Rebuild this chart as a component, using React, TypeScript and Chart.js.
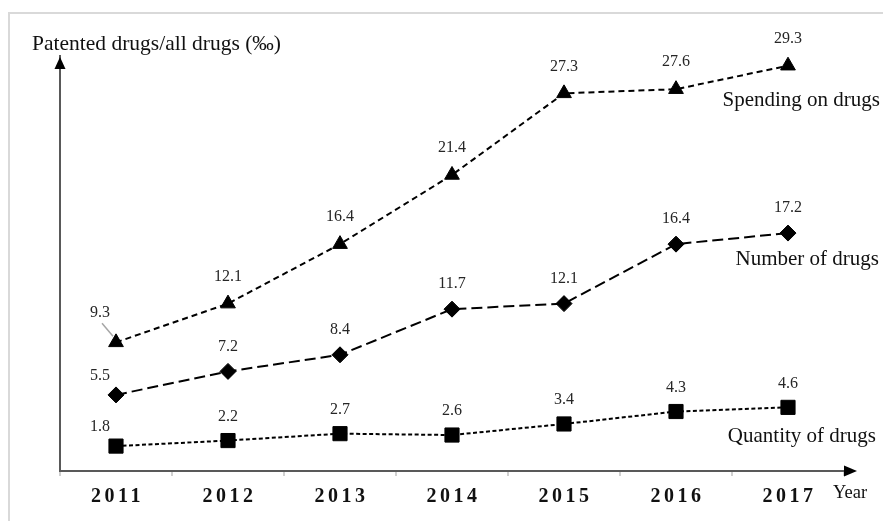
import React, { useEffect, useRef } from 'react';
import { Chart, registerables } from 'chart.js';

Chart.register(...registerables);

const years = ['2011', '2012', '2013', '2014', '2015', '2016', '2017'];
const spendingOnDrugs = [9.3, 12.1, 16.4, 21.4, 27.3, 27.6, 29.3];
const numberOfDrugs = [5.5, 7.2, 8.4, 11.7, 12.1, 16.4, 17.2];
const quantityOfDrugs = [1.8, 2.2, 2.7, 2.6, 3.4, 4.3, 4.6];
const seriesNames = ['Spending on drugs', 'Number of drugs', 'Quantity of drugs'];
const yAxisTitle = 'Patented drugs/all drugs (\u2030)';
const xAxisTitle = 'Year';
const yMin = 0;
const yMax = 30;

const SERIF = "'Liberation Serif', 'Times New Roman', serif";

const overlayPlugin = {
  id: 'overlay',
  afterDraw(chart: any) {
    const ctx: CanvasRenderingContext2D = chart.ctx;
    const area = chart.chartArea;
    const xScale = chart.scales.x;
    ctx.save();

    // axis arrows
    ctx.fillStyle = '#000';
    ctx.beginPath();
    ctx.moveTo(area.left, area.top + 1);
    ctx.lineTo(area.left - 5.5, area.top + 13);
    ctx.lineTo(area.left + 5.5, area.top + 13);
    ctx.closePath();
    ctx.fill();
    ctx.beginPath();
    ctx.moveTo(area.right + 13, area.bottom);
    ctx.lineTo(area.right, area.bottom - 5.5);
    ctx.lineTo(area.right, area.bottom + 5.5);
    ctx.closePath();
    ctx.fill();

    // axis titles
    ctx.fillStyle = '#111';
    ctx.textBaseline = 'alphabetic';
    ctx.textAlign = 'left';
    ctx.font = `21.5px ${SERIF}`;
    ctx.fillText(yAxisTitle, 32, 50);
    ctx.font = `18.5px ${SERIF}`;
    ctx.fillText(xAxisTitle, area.right - 11, 498);

    // year labels
    ctx.font = `bold 20px ${SERIF}`;
    ctx.textAlign = 'center';
    (ctx as any).letterSpacing = '3.5px';
    years.forEach((y, i) => {
      ctx.fillText(y, xScale.getPixelForValue(i) + 1.5, 502);
    });
    (ctx as any).letterSpacing = '0px';

    // data labels
    ctx.font = `16px ${SERIF}`;
    ctx.fillStyle = '#262626';
    const labelDy = [27, 25, 24];
    chart.data.datasets.forEach((ds: any, di: number) => {
      const meta = chart.getDatasetMeta(di);
      meta.data.forEach((pt: any, i: number) => {
        const v = ds.data[i];
        const txt = v.toFixed(1);
        ctx.textAlign = 'center';
        ctx.textBaseline = 'middle';
        if (i === 0) {
          const dy = di === 0 ? 30 : 19;
          ctx.fillText(txt, pt.x - 16, pt.y - dy);
          if (di === 0) {
            ctx.strokeStyle = '#a6a6a6';
            ctx.lineWidth = 1.5;
            ctx.beginPath();
            ctx.moveTo(pt.x - 14, pt.y - 19);
            ctx.lineTo(pt.x - 3, pt.y - 6);
            ctx.stroke();
          }
        } else {
          ctx.fillText(txt, pt.x, pt.y - labelDy[di]);
        }
      });
    });

    // series names
    ctx.font = `21px ${SERIF}`;
    ctx.fillStyle = '#111';
    ctx.textAlign = 'right';
    ctx.textBaseline = 'alphabetic';
    const nameDy = [40, 32, 35];
    const nameDx = [92, 91, 88];
    seriesNames.forEach((name, di) => {
      const meta = chart.getDatasetMeta(di);
      const last = meta.data[meta.data.length - 1];
      ctx.fillText(name, last.x + nameDx[di], last.y + nameDy[di]);
    });

    ctx.restore();
  },
};

export default function App() {
  const canvasRef = useRef<HTMLCanvasElement | null>(null);

  useEffect(() => {
    if (!canvasRef.current) return;
    const chart = new Chart(canvasRef.current, {
      type: 'line',
      data: {
        labels: years,
        datasets: [
          {
            label: seriesNames[0],
            data: spendingOnDrugs,
            borderColor: '#000',
            backgroundColor: '#000',
            borderWidth: 2,
            borderDash: [6, 4],
            pointStyle: 'triangle',
            pointRadius: 8.5,
            pointBackgroundColor: '#000',
            pointBorderColor: '#000',
            pointBorderWidth: 1,
            fill: false,
            clip: false as any,
          },
          {
            label: seriesNames[1],
            data: numberOfDrugs,
            borderColor: '#000',
            backgroundColor: '#000',
            borderWidth: 2,
            borderDash: [11, 5],
            pointStyle: 'rectRot',
            pointRadius: 8,
            pointBackgroundColor: '#000',
            pointBorderColor: '#000',
            pointBorderWidth: 1,
            fill: false,
            clip: false as any,
          },
          {
            label: seriesNames[2],
            data: quantityOfDrugs,
            borderColor: '#000',
            backgroundColor: '#000',
            borderWidth: 2,
            borderDash: [4, 2.5],
            pointStyle: 'rect',
            pointRadius: 10,
            pointBackgroundColor: '#000',
            pointBorderColor: '#000',
            pointBorderWidth: 1,
            fill: false,
            clip: false as any,
          },
        ],
      },
      options: {
        animation: false,
        responsive: false,
        maintainAspectRatio: false,
        layout: { padding: { left: 60, top: 56, right: 39, bottom: 45 } },
        plugins: {
          legend: { display: false },
          tooltip: { enabled: false },
        },
        scales: {
          x: {
            type: 'category',
            offset: true,
            grid: {
              display: true,
              drawOnChartArea: false,
              drawTicks: true,
              tickLength: 5,
              color: '#d0d0d0',
              lineWidth: 2,
              offset: true,
            },
            border: { display: true, color: '#595959', width: 2 },
            ticks: { display: false },
          },
          y: {
            min: yMin,
            max: yMax,
            grid: { display: false, drawTicks: false },
            border: { display: true, color: '#595959', width: 2 },
            ticks: { display: false },
          },
        },
      },
      plugins: [overlayPlugin],
    });
    return () => chart.destroy();
  }, []);

  return (
    <div style={{ position: 'fixed', left: 0, top: 0, width: 883, height: 521, background: '#fff' }}>
      <div
        style={{
          position: 'absolute',
          left: 8,
          top: 12,
          right: 0,
          bottom: 0,
          borderTop: '2px solid #d9d9d9',
          borderLeft: '2px solid #d9d9d9',
        }}
      />
      <canvas
        ref={canvasRef}
        width={883}
        height={521}
        style={{ position: 'absolute', left: 0, top: 0, width: 883, height: 521 }}
      />
    </div>
  );
}
